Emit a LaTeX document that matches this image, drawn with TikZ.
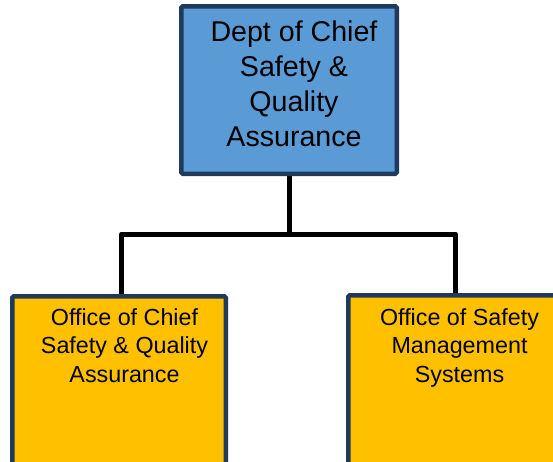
\documentclass[tikz,border=0pt]{standalone}
\usepackage{fontspec}
\setmainfont{Liberation Sans}
\usepackage{tikz}
\usetikzlibrary{positioning}
\definecolor{deptblue}{HTML}{5B9BD5}
\definecolor{officegold}{HTML}{FFC000}
\definecolor{boxnavy}{HTML}{1F3A5A}

\begin{document}
\begin{tikzpicture}[x=1pt,y=-1pt,
  box/.style={draw=boxnavy,line width=4.5pt,rounded corners=1.5pt,inner sep=0pt,anchor=north west},
  link/.style={draw=black,line width=5pt,line join=round},
  toptext/.style={align=center,anchor=base,inner sep=0pt,font=\fontsize{28.6}{35}\selectfont},
  subtext/.style={align=center,anchor=base,inner sep=0pt,font=\fontsize{23.3}{28.3}\selectfont}]
  \useasboundingbox (0,0) rectangle (553,461);

  % Connectors
  \coordinate (fork) at (289,234);
  \coordinate (ocsqatop) at (121.7,294);
  \coordinate (osmstop) at (455.7,293);
  \draw[link] (289,176) -- (fork);
  \draw[link] (ocsqatop) -- (ocsqatop |- fork) -- (osmstop |- fork) -- (osmstop);

  % Boxes
  \node[box,fill=deptblue,minimum width=215.5pt,minimum height=167.5pt] (dept) at (179,4) {};
  \node[box,fill=officegold,minimum width=213.5pt,minimum height=200pt] (ocsqa) at (10,294) {};
  \node[box,fill=officegold,minimum width=213.5pt,minimum height=200pt] (osms) at (346,293) {};

  % Box texts (base = last line)
  \node[toptext] (depttxt) at (294,146) {Dept of Chief\\Safety \&\\Quality\\Assurance};
  \node[subtext] (ocsqatxt) at (124.5,382) {Office of Chief\\Safety \& Quality\\Assurance};
  \node[subtext] (osmstxt) at (459.5,382) {Office of Safety\\Management\\Systems};
\end{tikzpicture}
\end{document}
